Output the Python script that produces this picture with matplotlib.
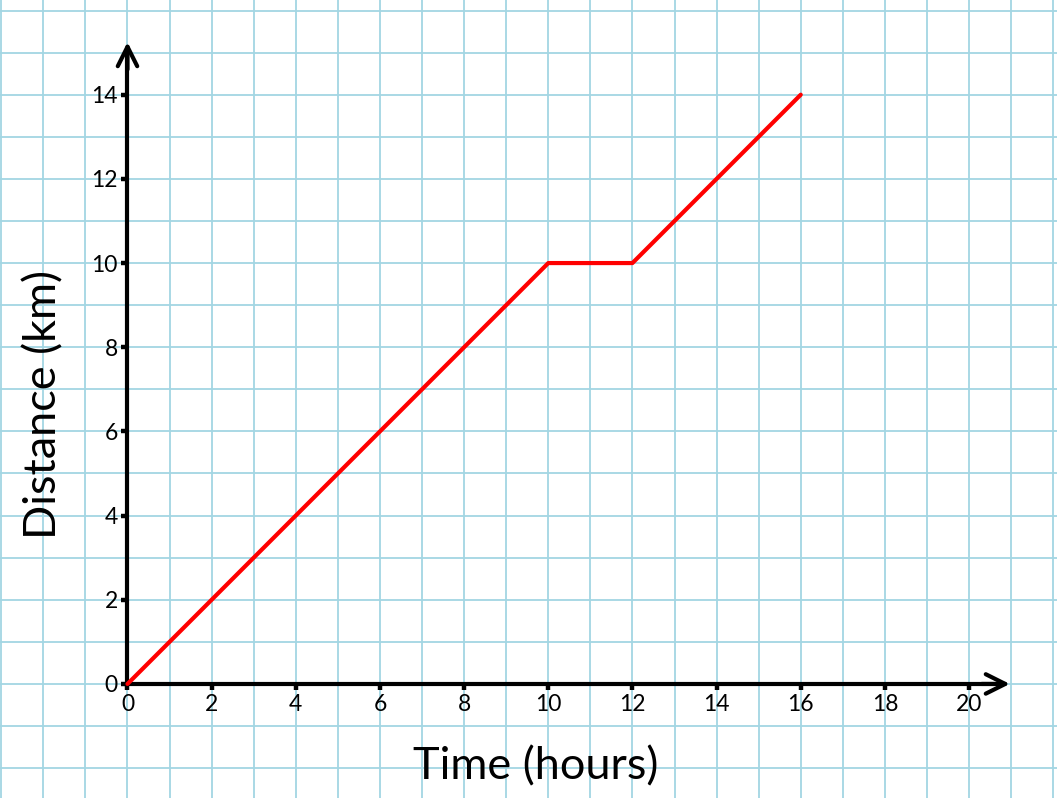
import matplotlib
matplotlib.use("Agg")
import matplotlib.pyplot as plt
import numpy as np

# data
time_h = [0, 10, 12, 16]
dist_km = [0, 10, 10, 14]
x_ticks = [0, 2, 4, 6, 8, 10, 12, 14, 16, 18, 20]
y_ticks = [0, 2, 4, 6, 8, 10, 12, 14]

GRID = "#a3d6e3"
plt.rcParams["font.family"] = ["Lato", "DejaVu Sans"]

fig = plt.figure(figsize=(10.57, 7.98), dpi=100)
ax = fig.add_axes([0, 0, 1, 1])
ax.set_xlim(-3.03, 22.09)
ax.set_ylim(-2.71, 16.25)

# graph-paper grid on every unit
ax.set_xticks(np.arange(-3, 23), minor=True)
ax.set_yticks(np.arange(-2, 17), minor=True)
ax.set_xticks(x_ticks)
ax.set_yticks(y_ticks)
ax.grid(True, which="both", color=GRID, lw=1.3)
ax.set_axisbelow(True)
ax.tick_params(which="minor", length=0)
ax.tick_params(which="major", length=4, width=3.2, direction="out",
               labelsize=16.5, color="black")
ax.tick_params(axis="x", pad=3)
ax.tick_params(axis="y", pad=3)

for s in ["top", "right"]:
    ax.spines[s].set_visible(False)
ax.spines["left"].set_position(("data", 0))
ax.spines["bottom"].set_position(("data", 0))
ax.spines["left"].set_linewidth(3)
ax.spines["bottom"].set_linewidth(3)
ax.spines["left"].set_bounds(0, 15.0)
ax.spines["bottom"].set_bounds(0, 20.7)

# arrow heads
ax.annotate("", xy=(20.97, 0), xytext=(20.3, 0),
            arrowprops=dict(arrowstyle="->", lw=3, color="black",
                            mutation_scale=35, shrinkA=0, shrinkB=0))
ax.annotate("", xy=(0, 15.25), xytext=(0, 14.6),
            arrowprops=dict(arrowstyle="->", lw=3, color="black",
                            mutation_scale=35, shrinkA=0, shrinkB=0))

ax.plot(time_h, dist_km, color="#ff0000", lw=3, solid_capstyle="round",
        solid_joinstyle="round", zorder=5, clip_on=False)

ax.text(9.7, -2.28, "Time (hours)", fontsize=32.5, ha="center", va="baseline")
ax.text(-1.98, 6.65, "Distance (km)", fontsize=32.5, ha="center", va="center",
        rotation=90)

fig.savefig("out.png", dpi=100)
